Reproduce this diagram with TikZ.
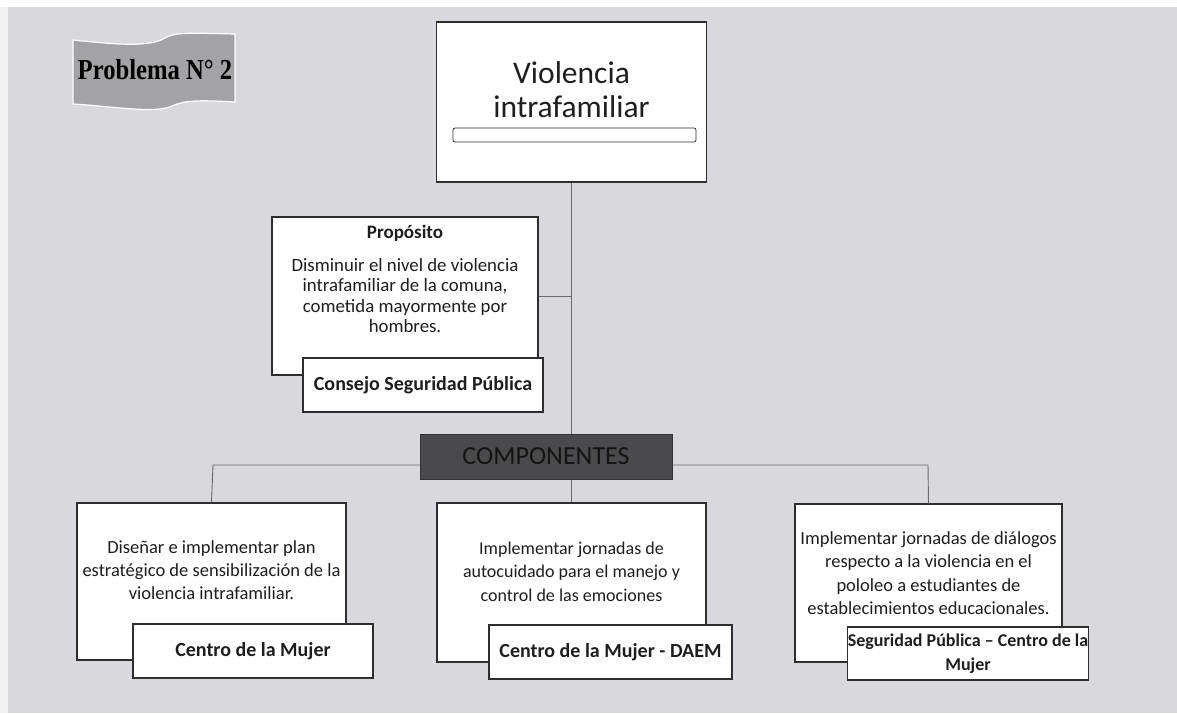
\documentclass[tikz,border=0pt]{standalone}
\usepackage{fontspec}
\setmainfont{Carlito}
\newfontfamily\serifb{Liberation Serif}
\definecolor{bgc}{HTML}{D9D9DD}
\definecolor{edge}{HTML}{2E2E2E}
\definecolor{linec}{HTML}{6A6A6E}
\definecolor{txt}{HTML}{1E1E1E}
\definecolor{darkfill}{HTML}{4A4A4C}
\definecolor{flagfill}{HTML}{A3A3A6}
\tikzset{
  box/.style={draw=edge, line width=1.1pt, fill=white, inner sep=0pt},
  conn/.style={draw=linec, line width=0.9pt},
  body/.style={text=txt, align=center, inner sep=0pt, font=\fontsize{18.5}{23}\selectfont},
  tag/.style={text=txt, align=center, inner sep=0pt, font=\fontsize{20}{24}\selectfont\bfseries},
}
\begin{document}
\begin{tikzpicture}[x=1pt,y=-1pt]
\useasboundingbox (0,0) rectangle (1177,713);
\fill[bgc] (0,0) rectangle (1177,713);
\fill[white] (0,0) rectangle (1177,7);
\fill[white!60!bgc] (0,7) rectangle (8,713);

% flag
\draw[white, line width=1.2pt, fill=flagfill] (73,40) .. controls (120,45) and (150,47) .. (165,38) .. controls (175,32) and (190,33) .. (235,34) -- (235,102) .. controls (200,100) and (185,100) .. (172,106) .. controls (155,114) and (110,106) .. (73,104) -- cycle;
\node[inner sep=0pt, text=black, xscale=0.85, font=\serifb\bfseries\fontsize{29}{31}\selectfont] (prob) at (155,70) {Problema N° 2};

\coordinate (hl) at (213,465);
\coordinate (hr) at (928,465);

% main box
\node[box, minimum width=270pt, minimum height=160pt] (main) at (571.5,102) {};
\node[text=txt, inner sep=0pt, font=\fontsize{31.5}{34}\selectfont] (t1) at (571.5,73) {Violencia};
\node[text=txt, inner sep=0pt, font=\fontsize{31.5}{34}\selectfont] (t2) at (571.5,107) {intrafamiliar};
\node[draw=edge, line width=0.8pt, rounded corners=2pt, minimum width=243pt, minimum height=14pt, inner sep=0pt] (bar) at (574.5,135) {};

% boxes
\node[box, minimum width=266pt, minimum height=158pt] (prop) at (405,296) {};
\node[box, minimum width=269pt, minimum height=157pt] (c1) at (211.5,581.5) {};
\node[box, minimum width=269pt, minimum height=159pt] (c2) at (571.5,582.5) {};
\node[box, minimum width=267pt, minimum height=158pt] (c3) at (928.5,583) {};

% connectors
\draw[conn] (main.south) -- (c2.north);
\draw[conn] (prop.east) -- (prop.east -| main.south);
\draw[conn] (c1.north) -- (hl) -- (hr) -- (c3.north);

\node[draw=black!80, line width=0.8pt, fill=darkfill, minimum width=252pt, minimum height=45pt, inner sep=0pt, text=black!92, font=\fontsize{26}{28}\selectfont] (comp) at (546,456.5) {COMPONENTES};

\node[text=txt, inner sep=0pt, font=\fontsize{19}{22}\selectfont\bfseries] (ptitle) at (405,233) {Propósito};
\node[body, font=\fontsize{18.8}{20.5}\selectfont, anchor=north] (ptext) at (405,258) {Disminuir el nivel de violencia\\intrafamiliar de la comuna,\\cometida mayormente por\\hombres.};
\node[box, minimum width=240pt, minimum height=54pt, tag] (a0) at (423,385) {Consejo Seguridad Pública};

\node[body] (x1) at (211.5,570) {Diseñar e implementar plan\\estratégico de sensibilización de la\\violencia intrafamiliar.};
\node[box, minimum width=240pt, minimum height=54pt, tag] (a1) at (253,651) {Centro de la Mujer};

\node[body, font=\fontsize{18}{23.5}\selectfont] (x2) at (571.5,571.5) {Implementar jornadas de\\autocuidado para el manejo y\\control de las emociones};
\node[box, minimum width=243pt, minimum height=54pt, tag] (a2) at (610.5,652) {Centro de la Mujer - DAEM};

\node[body, font=\fontsize{18.5}{23.5}\selectfont] (x3) at (928.5,573) {Implementar jornadas de diálogos\\respecto a la violencia en el\\pololeo a estudiantes de\\establecimientos educacionales.};
\node[box, minimum width=240pt, minimum height=53pt, tag, font=\fontsize{18}{24}\selectfont\bfseries] (a3) at (968,653.5) {Seguridad Pública – Centro de la\\Mujer};
\end{tikzpicture}
\end{document}
